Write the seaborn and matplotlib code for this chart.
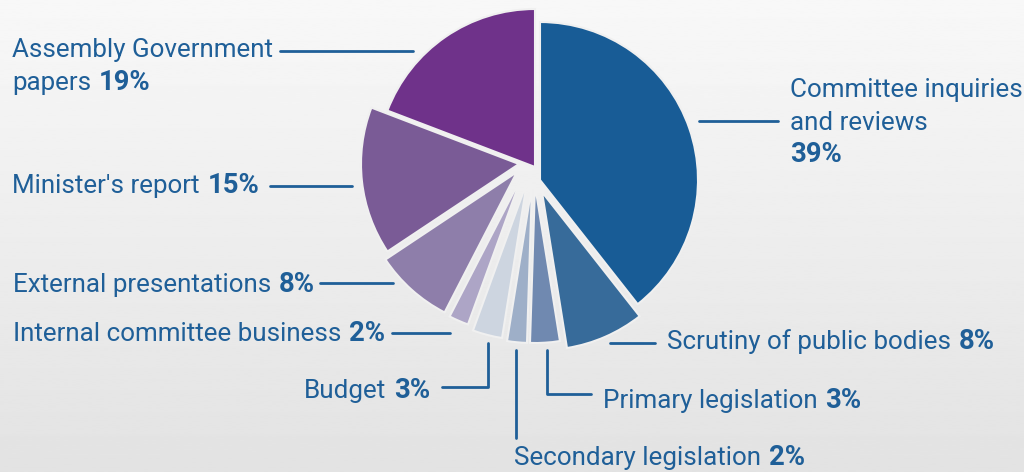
import numpy as np
import matplotlib
matplotlib.use("Agg")
import matplotlib.pyplot as plt
import seaborn as sns

# ---- data ----
categories = ["Assembly Government papers", "Minister's report", "External presentations",
              "Internal committee business", "Budget", "Secondary legislation",
              "Primary legislation", "Scrutiny of public bodies", "Committee inquiries and reviews"]
shares = [19, 15, 8, 2, 3, 2, 3, 8, 39]
slice_colors = ["#6f328a", "#7a5b96", "#8e7eaa", "#ada5c6", "#cdd5e0",
                "#9eafc8", "#7089b0", "#376b9a", "#185c96"]
# hand-placed displacement of each slice (pixels, x right / y down), as in the original design
slice_shift_px = [(-5, -13), (-21, -16), (-23, -8), (-18, -4), (-13, 2),
                  (-8, 5), (-5, 5), (2, 12), (0, 0)]

sns.set_style("white")
plt.rcParams['font.family'] = ['Roboto', 'DejaVu Sans']

W, H, DPI = 1024, 472, 100
fig = plt.figure(figsize=(W / DPI, H / DPI), dpi=DPI)

# background gradient
bg = fig.add_axes([0, 0, 1, 1], zorder=-10)
grad = np.linspace(0.972, 0.888, 256).reshape(-1, 1)
bg.imshow(grad, aspect="auto", cmap="gray", vmin=0, vmax=1, extent=[0, 1, 0, 1])
bg.set_axis_off()

# pie axes: center (540,180) px, radius 158 px
cx, cy, R, half = 540, 180, 158, 200
ax = fig.add_axes([(cx - half) / W, (H - cy - half) / H, 2 * half / W, 2 * half / H])
pal = sns.color_palette(slice_colors)
wedges, _ = ax.pie(shares, colors=pal, startangle=90, counterclock=True, radius=1.0,
                   wedgeprops=dict(edgecolor="#f0f0f0", linewidth=1.5))
for w, (dx, dy) in zip(wedges, slice_shift_px):
    w.set_center((dx / R, -dy / R))
lim = half / R
ax.set_xlim(-lim, lim)
ax.set_ylim(-lim, lim)
ax.set_aspect("equal")
ax.set_axis_off()

TXT = "#1f5f98"
FS = 26 * 72 / DPI
FSB = 27.5 * 72 / DPI

def P(x, y):
    return (x / W, 1 - y / H)

renderer = fig.canvas.get_renderer()

def mixed(x, y, regular, bold, ha="left"):
    if ha == "left":
        t = fig.text(*P(x, y), regular, color=TXT, fontsize=FS, ha="left", va="baseline")
        bb = t.get_window_extent(renderer)
        x2 = bb.x1 + 8 if regular else x
        fig.text(x2 / W, 1 - y / H, bold, color=TXT, fontsize=FSB, fontweight="bold",
                 ha="left", va="baseline")
    else:
        t = fig.text(*P(x, y), bold, color=TXT, fontsize=FSB, fontweight="bold",
                     ha="right", va="baseline")
        bb = t.get_window_extent(renderer)
        fig.text((bb.x0 - 8) / W, 1 - y / H, regular, color=TXT, fontsize=FS,
                 ha="right", va="baseline")

def line(xs, ys):
    fig.add_artist(plt.Line2D([x / W for x in xs], [1 - y / H for y in ys],
                              color=TXT, lw=2, transform=fig.transFigure))

pct = [f"{v}%" for v in shares]

# Assembly Government papers
fig.text(*P(12, 57), "Assembly Government", color=TXT, fontsize=FS, va="baseline")
mixed(12, 90, "papers", pct[0])
line([280, 413], [51, 51])
# Minister's report
mixed(12, 193, "Minister's report", pct[1])
line([270, 352], [186, 186])
# External presentations
mixed(13, 292, "External presentations", pct[2])
line([320, 393], [283, 283])
# Internal committee business
mixed(13, 341, "Internal committee business", pct[3])
line([392, 450], [333, 333])
# Budget
mixed(430, 398, "Budget", pct[4], ha="right")
line([442, 488, 488], [387, 387, 343])
# Secondary legislation
mixed(514, 465, "Secondary legislation", pct[5])
line([516, 516], [350, 438])
# Primary legislation
mixed(603, 408, "Primary legislation", pct[6])
line([547, 547, 591], [350, 394, 394])
# Scrutiny
mixed(667, 349, "Scrutiny of public bodies", pct[7])
line([610, 655], [343, 343])
# Committee
fig.text(*P(790, 97), "Committee inquiries", color=TXT, fontsize=FS, va="baseline")
fig.text(*P(790, 130), "and reviews", color=TXT, fontsize=FS, va="baseline")
fig.text(*P(790, 162), pct[8], color=TXT, fontsize=FSB, fontweight="bold", va="baseline")
line([699, 778], [121, 121])

fig.savefig("out.png", dpi=DPI)
